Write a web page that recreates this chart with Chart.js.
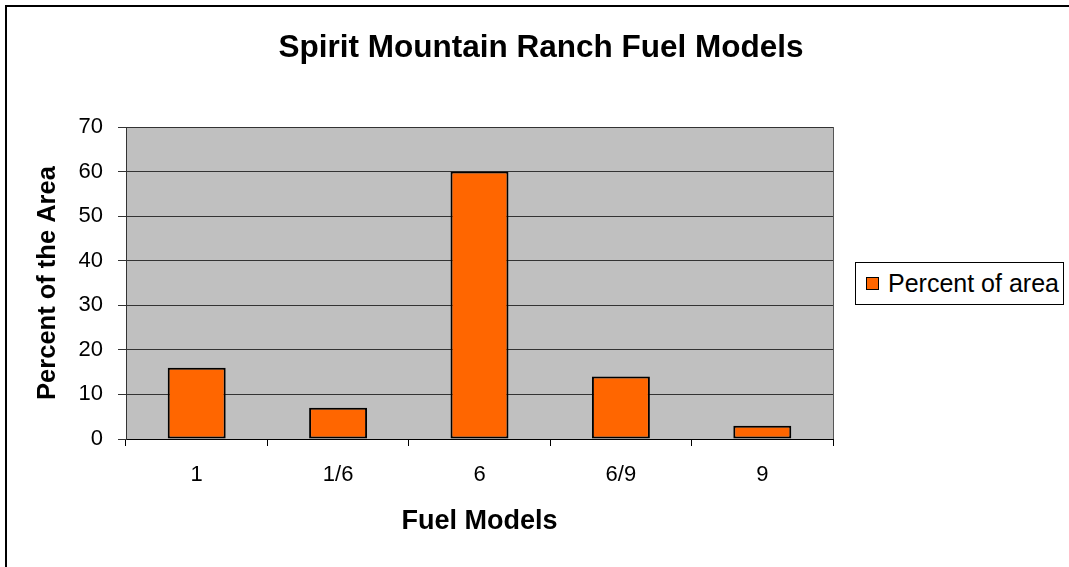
<!DOCTYPE html>
<html>
<head>
<meta charset="utf-8">
<script src="https://cdn.jsdelivr.net/npm/chart.js@4"></script>
<style>
  html, body { margin: 0; padding: 0; background: #fff; overflow: hidden; }
  #frame { position: absolute; left: 5px; top: 5px; width: 1100px; height: 600px; border: 2px solid #000; }
  #wrap { position: absolute; left: 0; top: 0; width: 1069px; height: 567px; }
  #legend { position: absolute; left: 855px; top: 262px; width: 207px; height: 41px; border: 1px solid #000; background: #fff;
    font-family: 'Liberation Sans', Arial, sans-serif; font-size: 25px; color: #000; display: flex; align-items: center; white-space: nowrap; overflow: hidden; }
  #legend .sw { flex: none; width: 11px; height: 11px; border: 1px solid #000; margin: 0 9px 0 10px; }
</style>
</head>
<body>
<div id="frame"></div>
<div id="wrap"><canvas id="miCanva"></canvas></div>
<div id="legend"></div>
<script>
const titulo = 'Spirit Mountain Ranch Fuel Models';
const modelos = ['1', '1/6', '6', '6/9', '9'];
const porcentajes = [16, 7, 60, 14, 3];
const serie = 'Percent of area';
const ejeY = 'Percent of the Area';
const ejeX = 'Fuel Models';

Chart.defaults.font.family = "'Liberation Sans', Arial, sans-serif";
Chart.defaults.color = '#000';

const fondo = {
  id: 'fondo',
  beforeDraw(chart) {
    const { ctx, chartArea: a } = chart;
    ctx.save();
    ctx.fillStyle = '#c0c0c0';
    ctx.fillRect(a.left, a.top, a.right - a.left, a.bottom - a.top);
    ctx.restore();
  },
  afterDraw(chart) {
    const { ctx, chartArea: a } = chart;
    ctx.save();
    ctx.strokeStyle = '#555';
    ctx.lineWidth = 1;
    ctx.beginPath();
    ctx.moveTo(Math.round(a.right) + 0.5, a.top);
    ctx.lineTo(Math.round(a.right) + 0.5, a.bottom);
    ctx.stroke();
    ctx.restore();
  }
};

const color = '#ff6600';

new Chart(document.getElementById('miCanva'), {
  type: 'bar',
  data: {
    labels: modelos,
    datasets: [{
      label: serie,
      data: porcentajes,
      backgroundColor: color,
      borderColor: '#000',
      borderWidth: 2,
      borderSkipped: false,
      barPercentage: 0.41,
      categoryPercentage: 1
    }]
  },
  options: {
    responsive: true,
    maintainAspectRatio: false,
    animation: false,
    layout: { padding: { left: 13, right: 0, top: 0, bottom: 0 } },
    plugins: {
      legend: { display: false },
      tooltip: { enabled: false },
      title: {
        display: true,
        text: titulo,
        font: { size: 31.5, weight: 'bold' },
        padding: { top: 29, bottom: 60.2 }
      }
    },
    scales: {
      x: {
        afterFit: (s) => { s.height = 128; },
        offset: true,
        grid: { offset: true, drawOnChartArea: false, tickLength: 7, color: '#000' },
        border: { color: '#000', width: 1 },
        ticks: { font: { size: 22 }, padding: 16 },
        title: { display: true, text: ejeX, font: { size: 27, weight: 'bold' }, padding: { top: 0, bottom: 29 } }
      },
      y: {
        afterFit: (s) => { s.width = 113; },
        min: 0,
        max: 70,
        ticks: { stepSize: 10, font: { size: 22 }, padding: 15 },
        grid: { color: '#333', tickLength: 8 },
        border: { color: '#333', width: 1 },
        title: { display: true, text: ejeY, font: { size: 25.5, weight: 'bold' }, padding: { top: 20, bottom: 0 } }
      },
      derecha: {
        type: 'linear',
        position: 'right',
        afterFit: (s) => { s.width = 236; },
        grid: { drawOnChartArea: false, drawTicks: false },
        border: { display: false },
        ticks: { display: false }
      }
    }
  },
  plugins: [fondo]
});

document.getElementById('legend').innerHTML =
  '<div class="sw" style="background:' + color + '"></div><span>' + serie + '</span>';
</script>
</body>
</html>
